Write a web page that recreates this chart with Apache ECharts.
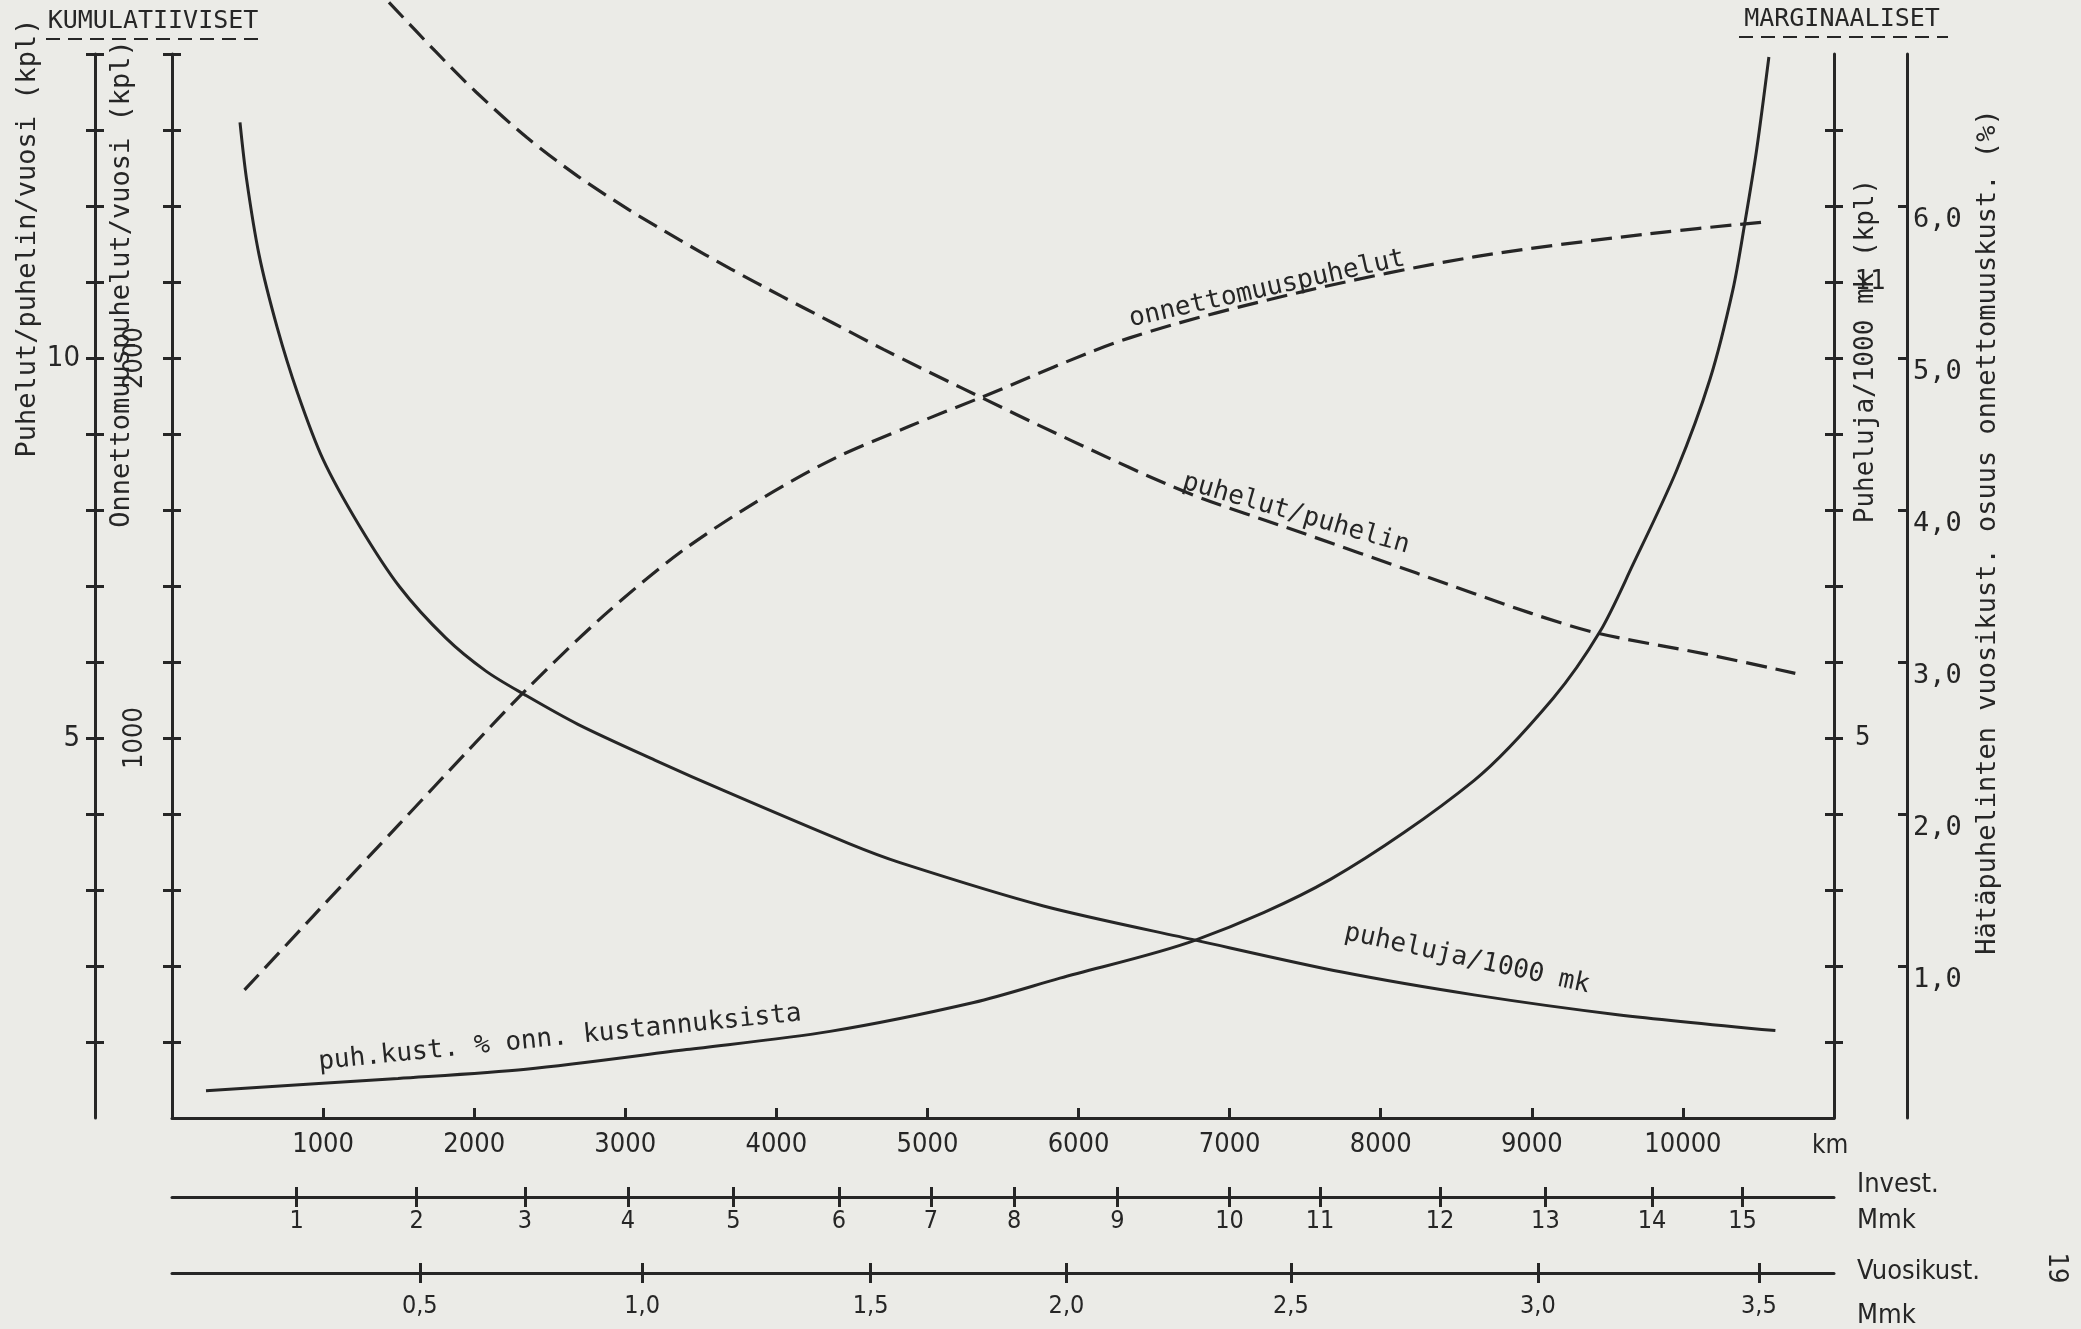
<!DOCTYPE html>
<html>
<head>
<meta charset="UTF-8">
<title>Kumulatiiviset ja marginaaliset</title>
<style>
html, body { margin: 0; padding: 0; background: #ebebe7; }
#main { width: 2081px; height: 1329px; }
</style>
</head>
<body>
<div id="main"></div>
<script src="https://cdn.jsdelivr.net/npm/echarts@6/dist/echarts.min.js"></script>
<script>
// --- data (x = km) ---
var kmTicks = [1000, 2000, 3000, 4000, 5000, 6000, 7000, 8000, 9000, 10000];

// Invest. Mmk scale, its ticks sit at these km positions
var investLabels = ['1', '2', '3', '4', '5', '6', '7', '8', '9', '10', '11', '12', '13', '14', '15'];
var investKm = [825, 1619, 2336, 3018, 3716, 4414, 5023, 5573, 6257, 6999, 7598, 8392, 9090, 9795, 10395];

// Vuosikust. Mmk scale
var vuosiLabels = ['0,5', '1,0', '1,5', '2,0', '2,5', '3,0', '3,5'];
var vuosiKm = [1640, 3112, 4624, 5920, 7405, 9040, 10503];

// left axes
var onnTicks = [200, 400, 600, 800, 1000, 1200, 1400, 1600, 1800, 2000, 2200, 2400, 2600, 2800];
var onnLabels = [1000, 2000];
var puhelinTicks = [1, 2, 3, 4, 5, 6, 7, 8, 9, 10, 11, 12, 13, 14];
var puhelinLabels = [5, 10];
// right axes
var puhelujaTicks = [1, 2, 3, 4, 5, 6, 7, 8, 9, 10, 11, 12, 13];
var puhelujaLabels = [5, 11];
var osuusTicks = [1, 2, 3, 4, 5, 6];

// curves [km, value]
var puhelinData = [[1436, 14.68], [1741, 14.04], [2012, 13.50], [2349, 12.90], [2687, 12.39], [3025, 11.95],
  [3362, 11.55], [3700, 11.17], [4037, 10.81], [4375, 10.46], [4712, 10.11], [5222, 9.61], [5956, 8.91],
  [6717, 8.23], [7478, 7.70], [8237, 7.17], [8997, 6.64], [9434, 6.38], [10137, 6.11], [10744, 5.85]];
var onnData = [[480, 337], [936, 532], [1506, 774], [1962, 968], [2349, 1129], [2857, 1322], [3362, 1488],
  [3870, 1622], [4375, 1734], [4884, 1821], [5347, 1895], [6338, 2053], [7477, 2174], [8617, 2266],
  [9755, 2326], [10543, 2358]];
var puhelujaData = [[450, 13.1], [493, 12.36], [576, 11.36], [695, 10.41], [831, 9.54], [999, 8.67],
  [1238, 7.80], [1506, 6.99], [1810, 6.32], [2078, 5.88], [2334, 5.57], [2687, 5.18], [3195, 4.71],
  [3684, 4.28], [4481, 3.61], [4818, 3.36], [5768, 2.79], [6774, 2.34], [7743, 1.92], [8617, 1.62],
  [9567, 1.36], [10612, 1.15]];
var osuusData = [[225, 0.18], [1496, 0.26], [2343, 0.32], [3406, 0.45], [4355, 0.57], [5306, 0.76],
  [5877, 0.92], [6774, 1.17], [7667, 1.57], [8617, 2.22], [9140, 2.76], [9451, 3.20], [9669, 3.64],
  [9958, 4.26], [10179, 4.86], [10331, 5.45], [10410, 5.89], [10488, 6.37], [10569, 6.98]];

var INK = '#262626';
var MONO = '"DejaVu Sans Mono", monospace';
var NARROW = '"DejaVu Sans Condensed", "Liberation Sans Narrow", "DejaVu Sans", sans-serif';

var myChart = echarts.init(document.getElementById('main'));

// helper for the axes, keeps the option shorter
function yAx(pos, offset, max, ticks, inside, label) {
  return {
    type: 'value', position: pos, offset: offset, min: 0, max: max,
    axisLine: { show: !!label, onZero: false, lineStyle: { color: INK, width: 3 } },
    axisTick: { show: true, inside: inside, length: 9, customValues: ticks, lineStyle: { color: INK, width: 3 } },
    axisLabel: label ? label : { show: false },
    splitLine: { show: false }
  };
}
function xAx(offset, ticks, inside, label, lineShow) {
  return {
    type: 'value', position: 'bottom', offset: offset, min: 0, max: 11000,
    axisLine: { show: lineShow, onZero: false, lineStyle: { color: INK, width: 3 } },
    axisTick: { show: true, inside: inside, length: 10, customValues: ticks, lineStyle: { color: INK, width: 3 } },
    axisLabel: label ? label : { show: false },
    splitLine: { show: false }
  };
}
function plain(v) { return String(v); }

function txt(s, x, y, size, rot, font, align) {
  return {
    type: 'text', x: x, y: y, rotation: rot || 0, silent: true,
    style: {
      text: s, fill: INK, font: size + 'px ' + (font || MONO),
      textAlign: align || 'center', align: align || 'center',
      textVerticalAlign: 'middle', verticalAlign: 'middle'
    }
  };
}
function dashLine(x1, x2, y) {
  return {
    type: 'line', silent: true,
    shape: { x1: x1, y1: y, x2: x2, y2: y },
    style: { stroke: INK, lineWidth: 2, lineDash: [14, 8] }
  };
}
function curve(name, yIdx, data, dashed) {
  return {
    name: name, type: 'line', xAxisIndex: 0, yAxisIndex: yIdx,
    data: data, smooth: 0.3, showSymbol: false, clip: false,
    lineStyle: dashed ? { color: INK, width: 3.2, type: [21, 9] } : { color: INK, width: 3 }
  };
}

var option = {
  backgroundColor: '#ebebe7',
  animation: false,
  grid: { left: 172, right: 247, top: 54, bottom: 211, containLabel: false, outerBoundsMode: 'none' },
  xAxis: [
    xAx(0, kmTicks, true, {
      customValues: kmTicks, margin: 13, color: INK, fontFamily: NARROW, fontSize: 27, formatter: plain
    }, true),
    xAx(79, investKm, false, {
      customValues: investKm, margin: 12, color: INK, fontFamily: NARROW, fontSize: 25,
      formatter: function (v) { var i = investKm.indexOf(v); return i < 0 ? '' : investLabels[i]; }
    }, true),
    xAx(155, vuosiKm, false, {
      customValues: vuosiKm, margin: 21, color: INK, fontFamily: NARROW, fontSize: 25,
      formatter: function (v) { var i = vuosiKm.indexOf(v); return i < 0 ? '' : vuosiLabels[i]; }
    }, true),
    xAx(79, investKm, true, null, false),
    xAx(155, vuosiKm, true, null, false)
  ],
  yAxis: [
    yAx('left', 0, 2800, onnTicks, false, {
      customValues: onnLabels, rotate: 90, margin: 24, color: INK, fontFamily: NARROW, fontSize: 27, formatter: plain
    }),
    yAx('left', 77, 14, puhelinTicks, false, {
      customValues: puhelinLabels, margin: 15, color: INK, fontFamily: NARROW, fontSize: 29, formatter: plain
    }),
    yAx('right', 0, 14, puhelujaTicks, false, {
      customValues: puhelujaLabels, margin: 21, color: INK, fontFamily: NARROW, fontSize: 27, formatter: plain
    }),
    yAx('right', 73, 7, osuusTicks, true, {
      customValues: osuusTicks, margin: 6, color: INK, fontFamily: MONO, fontSize: 27,
      verticalAlign: 'top',
      formatter: function (v) { return v.toFixed(1).replace('.', ','); }
    }),
    yAx('left', 0, 2800, onnTicks, true, null),
    yAx('left', 77, 14, puhelinTicks, true, null),
    yAx('right', 0, 14, puhelujaTicks, true, null)
  ],
  series: [
    curve('puhelut/puhelin', 1, puhelinData, true),
    curve('onnettomuuspuhelut', 0, onnData, true),
    curve('puheluja/1000 mk', 2, puhelujaData, false),
    curve('puh.kust. % onn. kustannuksista', 3, osuusData, false)
  ],
  graphic: [
    txt('KUMULATIIVISET', 153, 21, 25),
    dashLine(46, 260, 39),
    txt('MARGINAALISET', 1842, 19, 25),
    dashLine(1739, 1948, 37),
    txt('Puhelut/puhelin/vuosi (kpl)', 28, 238, 27, Math.PI / 2),
    txt('Onnettomuuspuhelut/vuosi (kpl)', 122, 284, 27, Math.PI / 2),
    txt('Puheluja/1000 mk (kpl)', 1866, 351, 26, Math.PI / 2),
    txt('Hätäpuhelinten vuosikust. osuus onnettomuuskust. (%)', 1988, 532, 27, Math.PI / 2),
    txt('onnettomuuspuhelut', 1267, 289, 26, 0.22),
    txt('puhelut/puhelin', 1296, 514, 26, -0.28),
    txt('puheluja/1000 mk', 1467, 959, 26, -0.215),
    txt('puh.kust. % onn. kustannuksista', 560, 1038, 26, 0.101),
    txt('km', 1812, 1146, 26, 0, NARROW, 'left'),
    txt('Invest.', 1857, 1185, 27, 0, NARROW, 'left'),
    txt('Mmk', 1857, 1221, 27, 0, NARROW, 'left'),
    txt('Vuosikust.', 1857, 1272, 27, 0, NARROW, 'left'),
    txt('Mmk', 1857, 1316, 27, 0, NARROW, 'left'),
    txt('19', 2056, 1268, 27, -Math.PI / 2, NARROW)
  ]
};
myChart.setOption(option);
</script>
</body>
</html>
